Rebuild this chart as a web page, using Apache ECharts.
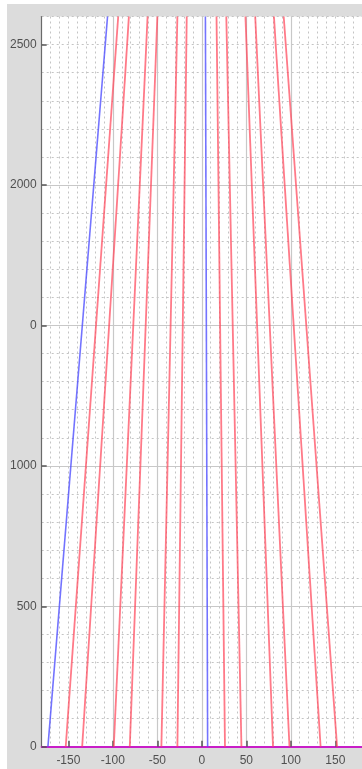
<!DOCTYPE html>
<html>
<head>
<meta charset="utf-8">
<script src="https://cdn.jsdelivr.net/npm/echarts@6/dist/echarts.min.js"></script>
<style>
html,body{margin:0;padding:0;background:#ffffff;width:362px;height:769px;overflow:hidden;}
#chart{position:absolute;left:7px;top:4px;width:355px;height:765px;background:#dcdcdc;}
</style>
</head>
<body>
<div id="chart"></div>
<script>
// Axis extents and tick positions
const xMin = -180, xMax = 180;
const yMin = 0, yMax = 2600;
const xMajorTicks = [-150, -100, -50, 0, 50, 100, 150];
const yMajorTicks = [0, 500, 1000, 1500, 2000, 2500];
const yTickLabels = ['0', '500', '1000', '0', '2000', '2500'];

// Each line runs from y = yBottom to y = yTop
const yBottom = 0, yTop = 2600;
const redXBottom = [-153, -134.5, -99, -81, -45.5, -27.5, 26, 44.5, 80, 98.5, 133.5, 152];
const redXTop    = [-94, -82, -61, -50, -27.5, -17, 16.5, 27.5, 49, 60, 81, 92];
const blueXBottom = [-173, 6.5];
const blueXTop    = [-106, 4];

const chart = echarts.init(document.getElementById('chart'), null, {renderer: 'canvas'});

const labelStyle = {color: '#505050', fontSize: 12, fontFamily: 'Liberation Sans, Arial, sans-serif'};

const series = [];
redXBottom.forEach((xb, i) => {
  series.push({
    type: 'line', xAxisIndex: 1, yAxisIndex: 1, symbol: 'none', silent: true,
    lineStyle: {color: 'rgba(255,70,90,0.72)', width: 1.8},
    data: [[xb, yBottom], [redXTop[i], yTop]], z: 3
  });
});
blueXBottom.forEach((xb, i) => {
  series.push({
    type: 'line', xAxisIndex: 1, yAxisIndex: 1, symbol: 'none', silent: true,
    lineStyle: {color: 'rgba(80,80,255,0.8)', width: 1.6},
    data: [[xb, yBottom], [blueXTop[i], yTop]], z: 3
  });
});

chart.setOption({
  animation: false,
  backgroundColor: '#dcdcdc',
  grid: {left: 29.2, right: -3.8, top: 12.5, bottom: 22.3, show: true, backgroundColor: '#ffffff', borderWidth: 0},
  xAxis: [
    {
      type: 'value', min: xMin, max: xMax, interval: 10, position: 'bottom',
      axisLine: {show: false}, axisTick: {show: false}, axisLabel: {show: false},
      splitLine: {show: true, showMinLine: false, lineStyle: {color: '#c4c4c4', width: 1, type: [2, 3]}}
    },
    {
      type: 'value', min: xMin, max: xMax, position: 'bottom',
      axisLine: {show: true, onZero: false, lineStyle: {color: '#c81ec8', width: 2}},
      axisTick: {show: true, inside: true, length: 6, customValues: xMajorTicks, lineStyle: {color: '#555555', width: 1.5}},
      axisLabel: Object.assign({show: true, margin: 8, customValues: xMajorTicks}, labelStyle),
      splitLine: {show: true, showMinLine: false, showMaxLine: false, lineStyle: {color: '#c8c8c8', width: 1.2, type: 'solid'}}
    }
  ],
  yAxis: [
    {
      type: 'value', min: yMin, max: yMax, interval: 100, position: 'left',
      axisLine: {show: false}, axisTick: {show: false}, axisLabel: {show: false},
      splitLine: {show: true, showMinLine: false, showMaxLine: true, lineStyle: {color: '#c4c4c4', width: 1, type: [2, 3]}}
    },
    {
      type: 'value', min: yMin, max: yMax, position: 'left',
      axisLine: {show: true, onZero: false, lineStyle: {color: '#6a6a6a', width: 1.2}},
      axisTick: {show: true, inside: true, length: 5, customValues: yMajorTicks, lineStyle: {color: '#555555', width: 1.5}},
      axisLabel: Object.assign({show: true, margin: 5, customValues: yMajorTicks,
        formatter: v => { const i = yMajorTicks.indexOf(v); return i >= 0 ? yTickLabels[i] : ''; }}, labelStyle),
      splitLine: {show: true, showMinLine: false, showMaxLine: false, lineStyle: {color: '#c8c8c8', width: 1.2, type: 'solid'}}
    }
  ],
  series: series
});
</script>
</body>
</html>
